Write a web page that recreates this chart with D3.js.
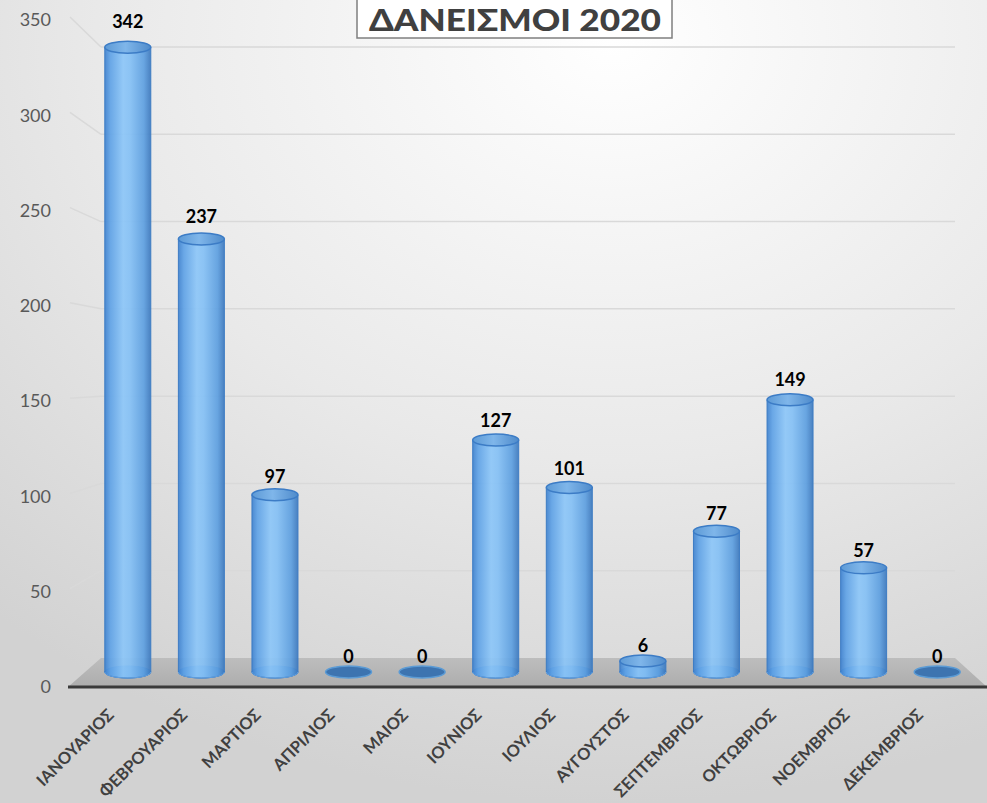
<!DOCTYPE html>
<html><head><meta charset="utf-8">
<script src="https://cdn.jsdelivr.net/npm/d3@7"></script>
<style>html,body{margin:0;padding:0;overflow:hidden;background:#fff}</style>
</head><body>
<svg id="c" width="987" height="803"></svg>
<script>
const months = ["ΙΑΝΟΥΑΡΙΟΣ","ΦΕΒΡΟΥΑΡΙΟΣ","ΜΑΡΤΙΟΣ","ΑΠΡΙΛΙΟΣ","ΜΑΙΟΣ","ΙΟΥΝΙΟΣ","ΙΟΥΛΙΟΣ","ΑΥΓΟΥΣΤΟΣ","ΣΕΠΤΕΜΒΡΙΟΣ","ΟΚΤΩΒΡΙΟΣ","ΝΟΕΜΒΡΙΟΣ","ΔΕΚΕΜΒΡΙΟΣ"];
const values = [342,237,97,0,0,127,101,6,77,149,57,0];
const yTicks = [0,50,100,150,200,250,300,350];
const title = "ΔΑΝΕΙΣΜΟΙ 2020";

const svg = d3.select("#c");
const W = 987, H = 803;
const defs = svg.append("defs");

// background
const bg = defs.append("radialGradient").attr("id","bg").attr("cx","0.62").attr("cy","0.05").attr("r","0.95");
bg.append("stop").attr("offset","0").attr("stop-color","#ffffff");
bg.append("stop").attr("offset","0.55").attr("stop-color","#e9e9e9");
bg.append("stop").attr("offset","1").attr("stop-color","#d2d2d2");
svg.append("rect").attr("width",W).attr("height",H).attr("fill","url(#bg)");

// cylinder gradient
const cg = defs.append("linearGradient").attr("id","cyl").attr("x1","0").attr("x2","1").attr("y1","0").attr("y2","0");
[["0","#3f82cf"],["0.12","#5fa2e6"],["0.4","#8cc6f8"],["0.55","#84c0f5"],["0.85","#5d9fe0"],["1","#3c78bd"]]
  .forEach(([o,c])=>cg.append("stop").attr("offset",o).attr("stop-color",c));
const tg = defs.append("linearGradient").attr("id","topg").attr("x1","0").attr("x2","1").attr("y1","0").attr("y2","0");
[["0","#5d9ad6"],["0.45","#7fb6ea"],["1","#4f8bcb"]].forEach(([o,c])=>tg.append("stop").attr("offset",o).attr("stop-color",c));
const fg = defs.append("linearGradient").attr("id","floor").attr("x1","0").attr("x2","0").attr("y1","0").attr("y2","1");
fg.append("stop").attr("offset","0").attr("stop-color","#bdbdbd");
fg.append("stop").attr("offset","1").attr("stop-color","#adadad");

// scales
const yFront = d3.scaleLinear().domain([0,350]).range([687,20]);
const yBack  = d3.scaleLinear().domain([0,350]).range([658,47]);
const yMid   = d3.scaleLinear().domain([0,350]).range([672,32.6]);
const yLbl   = d3.scaleLinear().domain([0,350]).range([663,13]);
const x = d3.scaleBand().domain(months).range([91,974]).paddingInner(0.375).paddingOuter(0.1875);
const frontL = 68, frontR = 987, backL = 101, backR = 955;

// gridlines: back wall + side wall
const grid = svg.append("g");
yTicks.filter(v=>v>0).forEach(v=>{
  grid.append("line").attr("x1",backL).attr("x2",backR).attr("y1",yBack(v)).attr("y2",yBack(v))
    .attr("stroke","#d9d9d9").attr("stroke-width",1.5);
  grid.append("line").attr("x1",frontL+2).attr("x2",backL).attr("y1",yFront(v)-3).attr("y2",yBack(v))
    .attr("stroke","#d9d9d9").attr("stroke-width",1.5);
});

// floor
svg.append("path")
  .attr("d",`M${frontL},${yFront(0)}L${frontR},${yFront(0)}L${backR},${yBack(0)}L${backL},${yBack(0)}Z`)
  .attr("fill","url(#floor)");
svg.append("line").attr("x1",frontL).attr("x2",frontR).attr("y1",yFront(0)).attr("y2",yFront(0))
  .attr("stroke","#3a3a3a").attr("stroke-width",3);

// y axis labels
const yAxis = svg.append("g").attr("transform","translate(51,0)")
  .call(d3.axisLeft(yFront).tickValues(yTicks).tickSize(0).tickPadding(0));
yAxis.select(".domain").remove();
yAxis.selectAll("text").attr("font-family","Lato, 'Open Sans', sans-serif").attr("font-size",18).attr("fill","#595959");

// bars
const ry = 6;
const bars = svg.append("g").selectAll("g").data(values).join("g");
bars.each(function(v,i){
  const g = d3.select(this);
  const cx = x(months[i]) + x.bandwidth()/2, rx = x.bandwidth()/2;
  const base = yMid(0), top = yMid(v);
  if (v === 0) {
    g.append("ellipse").attr("cx",cx).attr("cy",base).attr("rx",rx).attr("ry",ry)
      .attr("fill","#3d74b0").attr("stroke","#5b9bd5").attr("stroke-width",1.5);
    return;
  }
  g.append("ellipse").attr("cx",cx).attr("cy",base).attr("rx",rx).attr("ry",ry)
    .attr("fill","#4a86c8").attr("stroke","#3a78c0").attr("stroke-width",1);
  g.append("path")
    .attr("d",`M${cx-rx},${top}L${cx-rx},${base}A${rx},${ry} 0 0 0 ${cx+rx},${base}L${cx+rx},${top}Z`)
    .attr("fill","url(#cyl)").attr("fill-opacity",0.92)
    .attr("stroke","#3d7cc4").attr("stroke-width",1);
  g.append("path")
    .attr("d",`M${cx-rx},${base}A${rx},${ry} 0 0 0 ${cx+rx},${base}`)
    .attr("fill","none").attr("stroke","#6aa9e6").attr("stroke-width",1).attr("opacity",0.8);
  g.append("ellipse").attr("cx",cx).attr("cy",top).attr("rx",rx).attr("ry",ry)
    .attr("fill","url(#topg)").attr("stroke","#3c7cc6").attr("stroke-width",1.5);
});

// value labels
svg.append("g").selectAll("text").data(values).join("text")
  .attr("x",(d,i)=>x(months[i])+x.bandwidth()/2)
  .attr("y",d=>yLbl(d))
  .attr("text-anchor","middle")
  .attr("font-family","Lato, 'Open Sans', sans-serif").attr("font-weight","bold").attr("font-size",18)
  .attr("fill","#000").text(d=>d);

// x labels
const xAxis = svg.append("g").attr("transform","translate(0,716)")
  .call(d3.axisBottom(x).tickSize(0).tickPadding(0));
xAxis.select(".domain").remove();
xAxis.selectAll("text")
  .attr("transform","translate(-13,0) rotate(-45)")
  .attr("text-anchor","end").attr("dy","0")
  .attr("font-family","Lato, 'Open Sans', sans-serif").attr("font-weight","bold").attr("font-size",16.5)
  .attr("fill","#404040");

// title
svg.append("rect").attr("x",357).attr("y",-5).attr("width",315).attr("height",43)
  .attr("fill","#ffffff").attr("stroke","#7f7f7f").attr("stroke-width",1.5);
svg.append("text").attr("x",515).attr("y",31).attr("text-anchor","middle")
  .attr("font-family","Lato, 'Open Sans', sans-serif").attr("font-weight","900").attr("font-size",31)
  .attr("textLength",292).attr("lengthAdjust","spacingAndGlyphs")
  .attr("fill","#404040").text(title);
</script>
</body></html>
